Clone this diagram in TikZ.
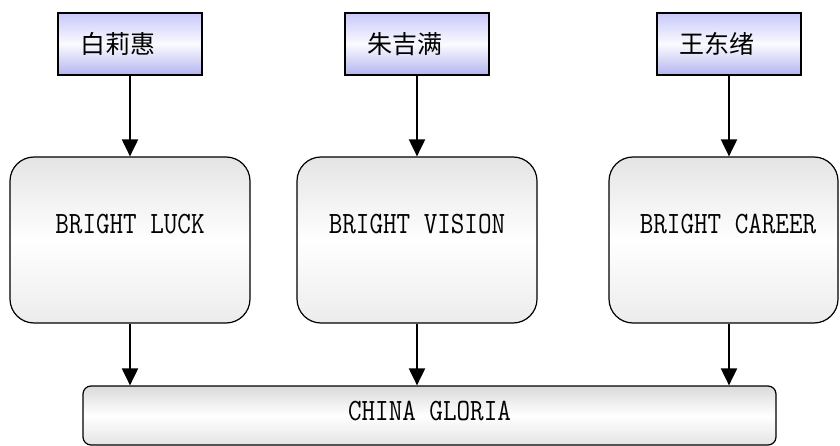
\documentclass[tikz,border=0pt]{standalone}
\usepackage{fontspec}
\newfontfamily\cjk{Noto Sans CJK SC}
\newfontfamily\latmono[FakeStretch=0.85]{Latin Modern Mono}
\usetikzlibrary{arrows.meta}
\definecolor{lavtop}{HTML}{C8C8FA}
\definecolor{lavbot}{HTML}{B4B4F0}
\definecolor{greytop}{HTML}{E4E4E4}
\definecolor{greybot}{HTML}{ECECEC}
\begin{document}
\begin{tikzpicture}[x=1pt,y=-1pt,
  person/.style={draw=black, line width=1.3pt, top color=lavtop, bottom color=lavbot, middle color=white!92!lavtop,
    minimum height=62pt, text width=100pt, inner xsep=22pt, inner ysep=0pt, align=left,
    font=\cjk\fontsize{25pt}{25pt}\selectfont},
  company/.style={draw=black, line width=1.2pt, rounded corners=24pt, top color=greytop, bottom color=greybot, middle color=white},
  lbl/.style={font=\latmono\fontsize{31pt}{31pt}\selectfont, inner sep=0pt},
  conn/.style={line width=2pt, -{Triangle[width=16pt,length=17pt]}}]
\useasboundingbox (0,0) rectangle (840,446);
% person boxes
\node[person] (t1) at (130,44) {白莉惠};
\node[person] (t2) at (417,44) {朱吉满};
\node[person] (t3) at (729,44) {王东绪};
% company boxes
\node[company, minimum width=240pt, minimum height=166pt] (r1) at (130,240) {};
\node[company, minimum width=240pt, minimum height=166pt] (r2) at (417,240) {};
\node[company, minimum width=229pt, minimum height=166pt] (r3) at (723.5,240) {};
\node[lbl] (l1) at (130,224) {BRIGHT LUCK};
\node[lbl] (l2) at (417,224) {BRIGHT VISION};
\node[lbl] (l3) at (728,224) {BRIGHT CAREER};
% bottom box
\node[draw=black, line width=1.2pt, rounded corners=8pt, top color=greytop!90!gray, bottom color=greytop, middle color=white,
  minimum width=693pt, minimum height=59pt] (b) at (429.5,415.5) {};
\node[lbl] (lb) at (429.5,411) {CHINA GLORIA};
% connectors
\draw[conn] (t1.south) -- (t1.south |- r1.north);
\draw[conn] (t2.south) -- (t2.south |- r2.north);
\draw[conn] (t3.south) -- (t3.south |- r3.north);
\draw[conn] (t1 |- r1.south) -- (t1 |- b.north);
\draw[conn] (t2 |- r2.south) -- (t2 |- b.north);
\draw[conn] (t3 |- r3.south) -- (t3 |- b.north);
\end{tikzpicture}
\end{document}
